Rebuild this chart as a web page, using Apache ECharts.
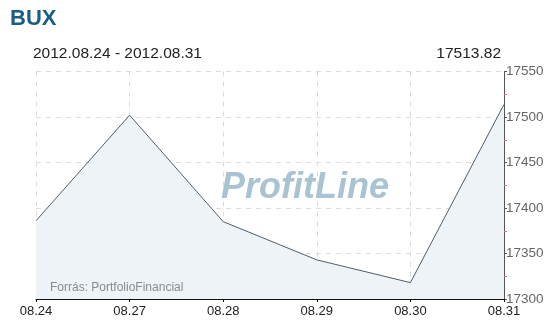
<!DOCTYPE html>
<html>
<head>
<meta charset="utf-8">
<script src="https://cdn.jsdelivr.net/npm/echarts@6/dist/echarts.min.js"></script>
<style>html,body{margin:0;padding:0;background:#fff}#c{width:553px;height:325px}</style>
</head>
<body>
<div id="c"></div>
<script>
const categories = ['08.24', '08.27', '08.28', '08.29', '08.30', '08.31'];
const values = [17386, 17502, 17385, 17343, 17318, 17513.82];
const yMin = 17300, yMax = 17550, yStep = 50;
const titleText = 'BUX';
const rangeText = '2012.08.24 - 2012.08.31';
const lastText = '17513.82';
const watermarkText = 'ProfitLine';
const sourceText = 'Forrás: PortfolioFinancial';

const chart = echarts.init(document.getElementById('c'), null, {renderer: 'canvas'});
const font = 'Liberation Sans, Arial, sans-serif';
chart.setOption({
  animation: false,
  textStyle: {fontFamily: font},
  title: [
    {text: titleText, left: 5, top: 3, textStyle: {fontFamily: font, fontSize: 22, fontWeight: 'bold', color: '#1b5d86'}},
    {text: rangeText, left: 28, top: 41, textStyle: {fontFamily: font, fontSize: 15.5, fontWeight: 'normal', color: '#222'}},
    {text: lastText, right: 47, top: 41, textStyle: {fontFamily: font, fontSize: 15.5, fontWeight: 'normal', color: '#222'}}
  ],
  grid: {left: 36, right: 49, top: 71.5, bottom: 26, containLabel: false},
  xAxis: {
    type: 'category', data: categories, boundaryGap: false,
    axisLine: {lineStyle: {color: '#111', width: 1}},
    axisTick: {show: true, length: 3, lineStyle: {color: '#111'}},
    axisLabel: {fontFamily: font, fontSize: 13, color: '#222', margin: 6},
    splitLine: {show: true, lineStyle: {color: '#dcdcdc', type: [5, 5]}}
  },
  yAxis: {
    type: 'value', position: 'right', min: yMin, max: yMax, interval: yStep,
    axisLine: {show: true, lineStyle: {color: '#555', width: 1}},
    axisTick: {show: true, length: 3, lineStyle: {color: '#555'}},
    minorTick: {show: true, splitNumber: 2, length: 3, lineStyle: {color: '#d9707f'}},
    axisLabel: {fontFamily: font, fontSize: 13.5, color: '#666', margin: 2, formatter: v => String(v)},
    splitLine: {show: true, lineStyle: {color: '#dcdcdc', type: [5, 5]}}
  },
  graphic: [
    {type: 'text', left: 221, top: 170, z: 1, style: {text: watermarkText, font: 'italic bold 36px ' + font, fill: '#a9c3d3', letterSpacing: -1.5}},
    {type: 'text', left: 50, top: 282, z: 5, style: {text: sourceText, font: '12px ' + font, fill: '#8a8a8a'}}
  ],
  series: [{
    type: 'line', data: values, symbol: 'none', z: 3,
    lineStyle: {color: '#4d5d6e', width: 1},
    areaStyle: {color: '#eef3f7', opacity: 1, origin: 'start'}
  }]
});
</script>
</body>
</html>
